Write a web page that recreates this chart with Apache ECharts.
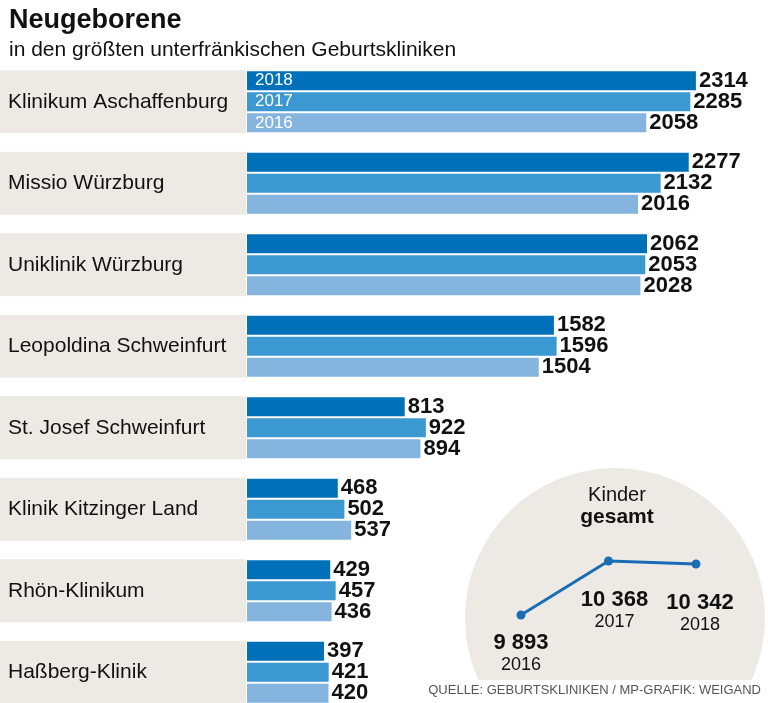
<!DOCTYPE html>
<html>
<head>
<meta charset="utf-8">
<script src="https://cdn.jsdelivr.net/npm/echarts@6/dist/echarts.min.js"></script>
<style>
html,body{margin:0;padding:0;background:#fff;}
#chart{width:768px;height:703px;}
</style>
</head>
<body>
<div id="chart"></div>
<script>
const clinics = ['Klinikum Aschaffenburg','Missio Würzburg','Uniklinik Würzburg','Leopoldina Schweinfurt','St. Josef Schweinfurt','Klinik Kitzinger Land','Rhön-Klinikum','Haßberg-Klinik'];
const births2018 = [2314,2277,2062,1582,813,468,429,397];
const births2017 = [2285,2132,2053,1596,922,502,457,421];
const births2016 = [2058,2016,2028,1504,894,537,436,420];
const barYears = ['2018','2017','2016'];
const totalYears = ['2016','2017','2018'];
const totals = [9893,10368,10342];

const FONT = '"Liberation Sans", Arial, sans-serif';
const colors = ['#0071b9','#3b98d1','#85b4df'];
const bandGray = '#edeae6';

function fmt(v){ return String(v).replace(/\B(?=(\d{3})+(?!\d))/g,' '); }

const barSeriesData = [births2018, births2017, births2016];
const barSeries = barSeriesData.map(function(arr, i){
  return {
    type: 'bar',
    name: barYears[i],
    xAxisIndex: 0, yAxisIndex: 0,
    data: arr,
    barWidth: 19,
    barGap: '11%',
    itemStyle: {color: colors[i]},
    label: {
      show: true, position: 'right', distance: 3,
      fontFamily: FONT, fontWeight: 'bold', fontSize: 22, color: '#111'
    },
    markPoint: {
      symbol: 'circle', symbolSize: 0,
      data: [{coord: [0, clinics[0]], name: barYears[i]}],
      label: {
        show: true, position: 'right', distance: 8,
        formatter: barYears[i],
        fontFamily: FONT, fontSize: 17, color: '#fff'
      }
    }
  };
});

const labelDist = [11, 22, 22];
const labelOffset = [0, 6, 4];

const option = {
  animation: false,
  backgroundColor: '#fff',
  title: [
    {
      text: 'Neugeborene', left: 4, top: 2,
      textStyle: {fontFamily: FONT, fontWeight: 'bold', fontSize: 27, color: '#111'},
      subtext: 'in den größten unterfränkischen Geburtskliniken',
      subtextStyle: {fontFamily: FONT, fontSize: 21, color: '#111'},
      itemGap: 6
    },
    {
      text: 'Kinder', left: 612, top: 480, textAlign: 'center',
      textStyle: {fontFamily: FONT, fontWeight: 'normal', fontSize: 20, color: '#111'},
      subtext: 'gesamt',
      subtextStyle: {fontFamily: FONT, fontWeight: 'bold', fontSize: 21, color: '#111'},
      itemGap: 2
    },
    {
      text: 'QUELLE: GEBURTSKLINIKEN / MP-GRAFIK: WEIGAND', right: 2, bottom: 1,
      textStyle: {fontFamily: FONT, fontWeight: 'normal', fontSize: 13, color: '#555'}
    }
  ],
  graphic: [
    {type: 'circle', shape: {cx: 615, cy: 618, r: 150}, style: {fill: bandGray}, z: 0, silent: true},
    {type: 'rect', shape: {x: 430, y: 680, width: 340, height: 30}, style: {fill: '#fff'}, z: 1, silent: true}
  ],
  grid: [
    {left: 247, top: 61, width: 485, height: 652, containLabel: false, outerBoundsMode: 'none'},
    {left: 521, top: 546, width: 175, height: 79.6, containLabel: false, outerBoundsMode: 'none'}
  ],
  xAxis: [
    {type: 'value', gridIndex: 0, min: 0, max: 2500, show: false},
    {type: 'category', gridIndex: 1, data: totalYears, boundaryGap: false, show: false}
  ],
  yAxis: [
    {
      type: 'category', gridIndex: 0, data: clinics, inverse: true,
      axisLine: {show: false}, axisTick: {show: false}, splitLine: {show: false},
      axisLabel: {
        interval: 0, align: 'left', margin: 247,
        width: 238, height: 63, lineHeight: 63, padding: [0, 0, 0, 8],
        backgroundColor: bandGray, verticalAlign: 'middle',
        fontFamily: FONT, fontSize: 21, color: '#111'
      }
    },
    {type: 'value', gridIndex: 1, min: 9800, max: 10500, show: false}
  ],
  series: barSeries.concat([
    {
      type: 'line', xAxisIndex: 1, yAxisIndex: 1, z: 5,
      data: totals.map(function(v, i){
        return {value: v, label: {distance: labelDist[i], offset: [labelOffset[i], 0]}};
      }),
      symbol: 'circle', symbolSize: 9,
      lineStyle: {color: '#1a6db5', width: 3},
      itemStyle: {color: '#1a6db5'},
      label: {
        show: true, position: 'bottom',
        formatter: function(p){ return '{v|' + fmt(p.value) + '}\n{y|' + totalYears[p.dataIndex] + '}'; },
        rich: {
          v: {fontFamily: FONT, fontWeight: 'bold', fontSize: 22, color: '#111', lineHeight: 24, align: 'center'},
          y: {fontFamily: FONT, fontSize: 18, color: '#111', lineHeight: 22, align: 'center'}
        }
      }
    }
  ])
};

const chart = echarts.init(document.getElementById('chart'), null, {renderer: 'canvas'});
chart.setOption(option);
</script>
</body>
</html>
